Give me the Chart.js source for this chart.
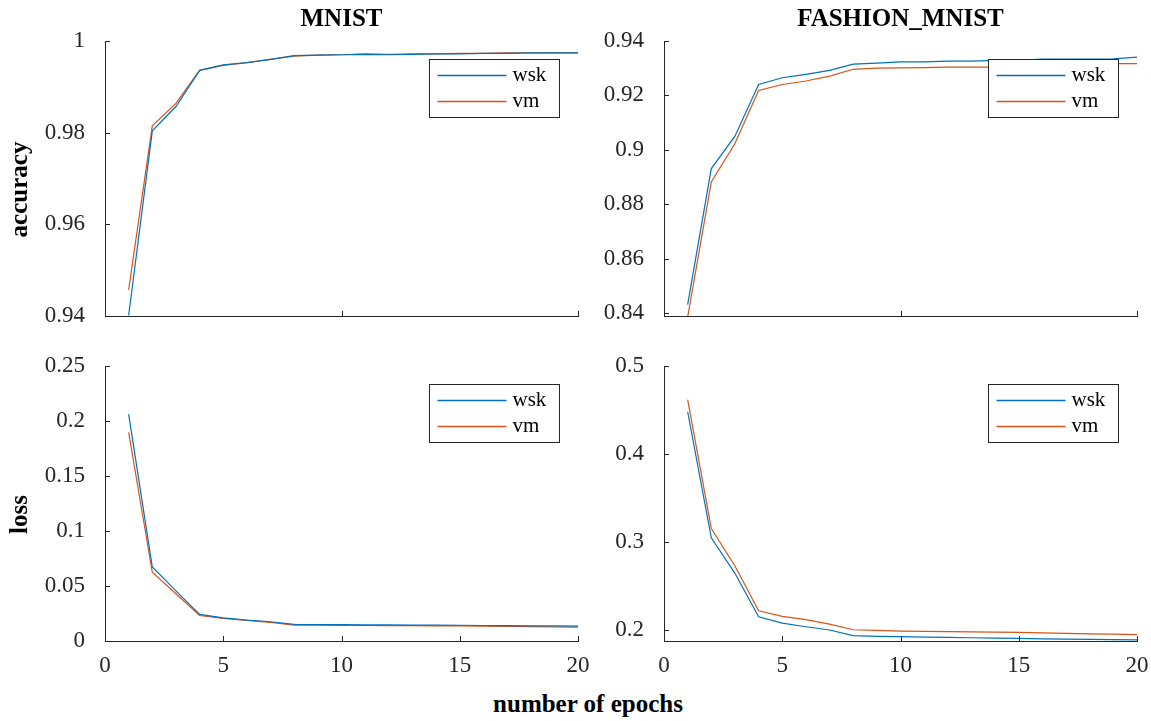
<!DOCTYPE html>
<html lang="en">
<head>
  <meta charset="UTF-8">
  <title>MNIST / FASHION_MNIST training curves</title>
  <script src="https://cdn.jsdelivr.net/npm/chart.js"></script>
  <style>
    body { margin: 0; background: #fff; }
    #wrap { position: relative; width: 1151px; height: 721px; }
    canvas { position: absolute; }
    #xlabel {
      position: absolute; left: 0; width: 1176px; top: 690px;
      text-align: center; font: bold 25px "Liberation Serif", serif; color: #000;
    }
  </style>
</head>
<body>
  <div id="wrap">
    <canvas id="accMnist" width="590" height="330" style="left:0;top:0"></canvas>
    <canvas id="accFashion" width="561" height="330" style="left:590px;top:0"></canvas>
    <canvas id="lossMnist" width="590" height="345" style="left:0;top:345px"></canvas>
    <canvas id="lossFashion" width="561" height="345" style="left:590px;top:345px"></canvas>
    <div id="xlabel">number of epochs</div>
  </div>
  <script>
    // epochs 1..20
    const epochs = [1,2,3,4,5,6,7,8,9,10,11,12,13,14,15,16,17,18,19,20];

    // MNIST accuracy
    const accMnistWsk = [0.9401,0.9804,0.9857,0.9936,0.9948,0.9953,0.9960,0.9968,0.9969,0.9970,0.9971,0.9970,0.9971,0.9972,0.9972,0.9973,0.9973,0.9974,0.9974,0.9974];
    const accMnistVm  = [0.9457,0.9815,0.9864,0.9936,0.9947,0.9953,0.9960,0.9967,0.9969,0.9970,0.9972,0.9971,0.9972,0.9972,0.9973,0.9973,0.9974,0.9974,0.9974,0.9974];

    // FASHION_MNIST accuracy
    const accFashionWsk = [0.8431,0.8931,0.9050,0.9240,0.9265,0.9277,0.9292,0.9315,0.9319,0.9323,0.9323,0.9326,0.9326,0.9329,0.9329,0.9333,0.9333,0.9333,0.9334,0.9341];
    const accFashionVm  = [0.8385,0.8882,0.9023,0.9218,0.9240,0.9253,0.9271,0.9296,0.9300,0.9301,0.9302,0.9304,0.9304,0.9304,0.9308,0.9312,0.9314,0.9316,0.9317,0.9317];

    // MNIST loss
    const lossMnistWsk = [0.2062,0.0673,0.0455,0.0242,0.0211,0.0190,0.0175,0.0151,0.0149,0.0148,0.0147,0.0146,0.0145,0.0144,0.0143,0.0141,0.0140,0.0138,0.0137,0.0136];
    const lossMnistVm  = [0.1896,0.0625,0.0430,0.0232,0.0205,0.0187,0.0170,0.0145,0.0143,0.0142,0.0141,0.0140,0.0139,0.0138,0.0137,0.0135,0.0133,0.0131,0.0129,0.0127];

    // FASHION_MNIST loss
    const lossFashionWsk = [0.4480,0.3047,0.2644,0.2150,0.2079,0.2037,0.2000,0.1936,0.1928,0.1924,0.1920,0.1916,0.1912,0.1908,0.1904,0.1900,0.1896,0.1893,0.1890,0.1887];
    const lossFashionVm  = [0.4619,0.3153,0.2727,0.2218,0.2154,0.2117,0.2067,0.2003,0.1996,0.1988,0.1985,0.1982,0.1979,0.1976,0.1972,0.1967,0.1962,0.1957,0.1952,0.1947];

    // tick values
    const xTicksTop = [0,10,20];
    const xTicksBottom = [0,5,10,15,20];
    const yTicksAccMnist = [0.94,0.96,0.98,1];
    const yTicksAccFashion = [0.84,0.86,0.88,0.9,0.92,0.94];
    const yTicksLossMnist = [0,0.05,0.1,0.15,0.2,0.25];
    const yTicksLossFashion = [0.2,0.3,0.4,0.5];

    const BLUE = '#0072BD', ORANGE = '#D95319', AXIS = '#262626';
    const SERIF = '"Liberation Serif", "Times New Roman", serif';

    // MATLAB style inward tick marks
    const inTicks = {
      id: 'inTicks',
      afterDraw(chart) {
        const ctx = chart.ctx, a = chart.chartArea;
        const xs = chart.scales.x, ys = chart.scales.y;
        ctx.save();
        ctx.strokeStyle = AXIS;
        ctx.lineWidth = 1;
        ctx.beginPath();
        xs.ticks.forEach(t => {
          const px = Math.round(xs.getPixelForValue(t.value)) + 0.5;
          ctx.moveTo(px, a.bottom);
          ctx.lineTo(px, a.bottom - 5);
        });
        ys.ticks.forEach(t => {
          const py = Math.round(ys.getPixelForValue(t.value)) + 0.5;
          ctx.moveTo(a.left, py);
          ctx.lineTo(a.left + 5, py);
        });
        ctx.stroke();
        ctx.restore();
      }
    };

    // legend box inside the axes (top right corner), panel title and y label
    const boxLegend = {
      id: 'boxLegend',
      afterDatasetsDraw(chart) {
        const ctx = chart.ctx, a = chart.chartArea;
        const w = 130, h = 58;
        const x0 = Math.round(a.right - 19 - w) + 0.5, y0 = Math.round(a.top + 18) + 0.5;
        ctx.save();
        ctx.fillStyle = '#fff';
        ctx.fillRect(x0, y0, w, h);
        ctx.strokeStyle = AXIS;
        ctx.lineWidth = 1;
        ctx.strokeRect(x0, y0, w, h);
        chart.data.datasets.forEach((ds, i) => {
          const y = y0 + 16 + i * 26;
          ctx.beginPath();
          ctx.strokeStyle = ds.borderColor;
          ctx.lineWidth = 1.5;
          ctx.moveTo(x0 + 8, y);
          ctx.lineTo(x0 + 77, y);
          ctx.stroke();
          ctx.fillStyle = '#000';
          ctx.font = '21px ' + SERIF;
          ctx.textBaseline = 'middle';
          ctx.fillText(ds.label, x0 + 83, y);
        });
        ctx.restore();
      },
      afterDraw(chart) {
        const opts = chart.options.plugins.boxLegend;
        const ctx = chart.ctx, a = chart.chartArea;
        ctx.save();
        ctx.fillStyle = '#000';
        ctx.font = 'bold 25px ' + SERIF;
        ctx.textAlign = 'center';
        ctx.textBaseline = 'middle';
        if (opts.title) ctx.fillText(opts.title, (a.left + a.right) / 2, 20);
        if (opts.yLabel) {
          ctx.translate(21, (a.top + a.bottom) / 2 + 11);
          ctx.rotate(-Math.PI / 2);
          ctx.fillText(opts.yLabel, 0, 0);
        }
        ctx.restore();
      }
    };

    const fmt = v => String(Math.round(v * 100) / 100);

    function makeChart(id, o) {
      new Chart(document.getElementById(id), {
        type: 'line',
        data: {
          datasets: [
            { label: 'wsk', data: epochs.map((e, i) => ({ x: e, y: o.wsk[i] })), borderColor: BLUE },
            { label: 'vm', data: epochs.map((e, i) => ({ x: e, y: o.vm[i] })), borderColor: ORANGE }
          ]
        },
        options: {
          responsive: false,
          animation: false,
          devicePixelRatio: 1,
          layout: { padding: o.padding },
          elements: { point: { radius: 0 }, line: { borderWidth: 1.2, tension: 0 } },
          plugins: {
            legend: { display: false },
            tooltip: { enabled: false },
            boxLegend: { title: o.title, yLabel: o.yTitle }
          },
          scales: {
            x: {
              type: 'linear', min: 0, max: 20,
              afterBuildTicks: s => { s.ticks = o.xTicks.map(v => ({ value: v })); },
              afterFit: s => { s.height = o.xHeight; s.paddingLeft = 0; s.paddingRight = 0; },
              grid: { display: false, drawTicks: false },
              border: { display: true, color: AXIS, width: 1 },
              ticks: {
                padding: 11, color: AXIS,
                font: { family: SERIF, size: 23 },
                maxRotation: 0,
                callback: v => (o.xLabels ? fmt(v) : '')
              }
            },
            y: {
              min: o.yMin, max: o.yMax,
              afterBuildTicks: s => { s.ticks = o.yTicks.map(v => ({ value: v })); },
              afterFit: s => { s.width = o.yWidth; s.paddingTop = 0; s.paddingBottom = 0; },
              grid: { display: false, drawTicks: false },
              border: { display: true, color: AXIS, width: 1 },
              ticks: {
                padding: 20, color: AXIS,
                font: { family: SERIF, size: 23 },
                callback: v => fmt(v)
              }
            }
          }
        },
        plugins: [inTicks, boxLegend]
      });
    }

    makeChart('accMnist', {
      wsk: accMnistWsk, vm: accMnistVm, title: 'MNIST', yTitle: 'accuracy',
      yMin: 0.94, yMax: 1, yTicks: yTicksAccMnist, xTicks: xTicksTop, xLabels: false,
      yWidth: 105, xHeight: 14, padding: { top: 41, right: 12, bottom: 0, left: 0 }
    });
    makeChart('accFashion', {
      wsk: accFashionWsk, vm: accFashionVm, title: 'FASHION_MNIST', yTitle: '',
      yMin: 0.8389, yMax: 0.94, yTicks: yTicksAccFashion, xTicks: xTicksTop, xLabels: false,
      yWidth: 74, xHeight: 14, padding: { top: 41, right: 14, bottom: 0, left: 0 }
    });
    makeChart('lossMnist', {
      wsk: lossMnistWsk, vm: lossMnistVm, title: '', yTitle: 'loss',
      yMin: 0, yMax: 0.25, yTicks: yTicksLossMnist, xTicks: xTicksBottom, xLabels: true,
      yWidth: 105, xHeight: 49, padding: { top: 21, right: 12, bottom: 0, left: 0 }
    });
    makeChart('lossFashion', {
      wsk: lossFashionWsk, vm: lossFashionVm, title: '', yTitle: '',
      yMin: 0.1875, yMax: 0.5, yTicks: yTicksLossFashion, xTicks: xTicksBottom, xLabels: true,
      yWidth: 74, xHeight: 49, padding: { top: 21, right: 14, bottom: 0, left: 0 }
    });
  </script>
</body>
</html>
